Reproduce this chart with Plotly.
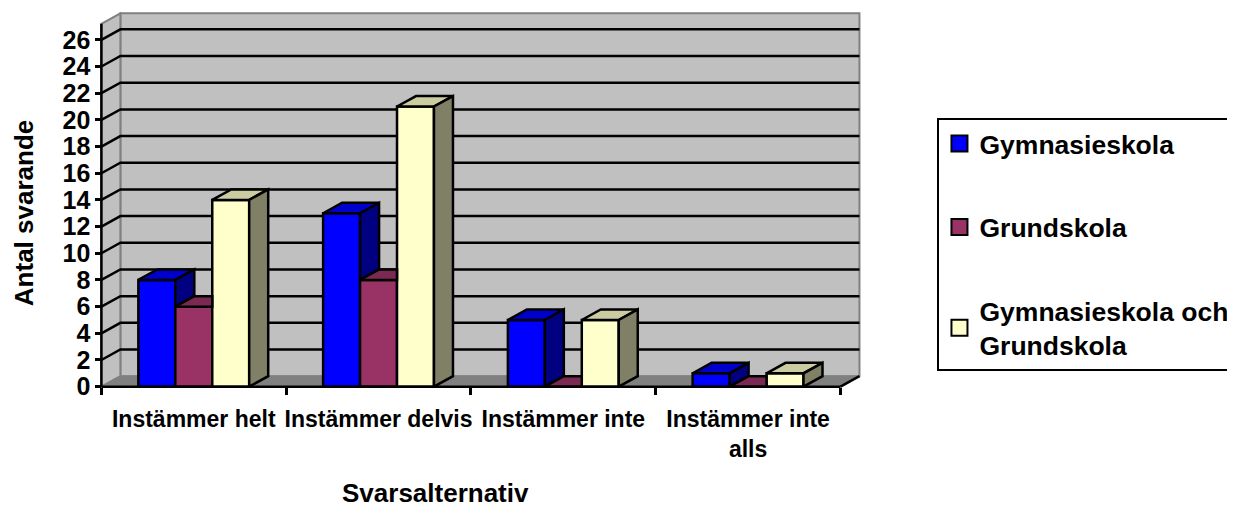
import plotly.graph_objects as go

# ---------------- data ----------------
categories = ["Instämmer helt", "Instämmer delvis", "Instämmer inte", "Instämmer inte<br>alls"]
series_names = ["Gymnasieskola", "Grundskola", "Gymnasieskola och<br>Grundskola"]
gymnasieskola = [8, 13, 5, 1]
grundskola = [6, 8, 0, 0]
gymnasieskola_och_grundskola = [14, 21, 5, 1]
y_tick_values = list(range(0, 27, 2))
y_title = "Antal svarande"
x_title = "Svarsalternativ"

series_values = [gymnasieskola, grundskola, gymnasieskola_och_grundskola]

# ---------------- styles ----------------
front_colors = ["#0000FF", "#993366", "#FFFFCC"]
top_colors = ["#0000CC", "#7A2952", "#CCCCA3"]
side_colors = ["#000080", "#5C1F3D", "#808066"]
FONT = "Arial, 'Liberation Sans', sans-serif"
OUT = 2.5

OFF = 8                      # page body margin of the rendered html
W, H = 1235 - OFF, 508 - OFF
X_PX = 184.75                # pixels per category
Y_PX = 13.35                 # pixels per value unit
DX = 19 / X_PX               # depth offset (x units)
DY = 10.5 / Y_PX             # depth offset (y units)
WALL_TOP = 27.2
AXIS_LEFT_PX = 101 - OFF
AXIS_BOTTOM_PX = 387 - OFF

n = len(categories)
x0, x1 = -0.5, n - 0.5
xr = [x0 - 0.04, x1 + DX + 0.03]
yr = [-0.25, WALL_TOP + DY + 0.1]

l = AXIS_LEFT_PX - (x0 - xr[0]) * X_PX
pw = (xr[1] - xr[0]) * X_PX
r = W - l - pw
b = H - AXIS_BOTTOM_PX - (0 - yr[0]) * Y_PX
ph = (yr[1] - yr[0]) * Y_PX
t = H - b - ph


def px_to_paper_x(px):
    return (px - OFF - l) / pw


def px_to_paper_y(py):
    return ((H - b) - (py - OFF)) / ph


fig = go.Figure()

bar_width = 0.2
for i, (name, vals) in enumerate(zip(series_names, series_values)):
    fig.add_trace(go.Bar(
        x=list(range(n)), y=vals, name=name, showlegend=False,
        marker=dict(color=front_colors[i], line=dict(color="black", width=OUT)),
        hoverinfo="skip",
    ))

# 3D faces (top and side) computed from the values
for k in range(n):
    for i in range(len(series_values)):
        v = series_values[i][k]
        a = k - 0.3 + bar_width * i
        bb = a + bar_width
        vn = series_values[i + 1][k] if i + 1 < len(series_values) else None
        if vn is not None and vn > v:
            top = [(a, v), (bb, v), (bb, v + DY), (a + DX, v + DY)]
        else:
            top = [(a, v), (bb, v), (bb + DX, v + DY), (a + DX, v + DY)]
        top.append(top[0])
        fig.add_trace(go.Scatter(
            x=[p[0] for p in top], y=[p[1] for p in top], mode="lines",
            fill="toself", fillcolor=top_colors[i],
            line=dict(color="black", width=OUT), showlegend=False, hoverinfo="skip",
        ))
        lower = max(vn, 0) if vn is not None else 0
        if v > lower:
            side = [(bb, lower), (bb, v), (bb + DX, v + DY), (bb + DX, lower + DY), (bb, lower)]
            fig.add_trace(go.Scatter(
                x=[p[0] for p in side], y=[p[1] for p in side], mode="lines",
                fill="toself", fillcolor=side_colors[i],
                line=dict(color="black", width=OUT), showlegend=False, hoverinfo="skip",
            ))

# legend entries (square swatches)
for i, name in enumerate(series_names):
    fig.add_trace(go.Scatter(
        x=[None], y=[None], mode="markers", name=name, legendgroup=f"g{i}",
        marker=dict(symbol="square", size=16, color=front_colors[i],
                    line=dict(color="black", width=2)),
    ))


def path(points, close=True):
    s = "M " + " L ".join(f"{x},{y}" for x, y in points)
    return s + (" Z" if close else "")


shapes = []
# back wall
shapes.append(dict(type="path", xref="x", yref="y", layer="below",
                   path=path([(x0 + DX, DY), (x1 + DX, DY), (x1 + DX, WALL_TOP + DY), (x0 + DX, WALL_TOP + DY)]),
                   fillcolor="#C0C0C0", line=dict(color="#808080", width=2)))
# left wall
shapes.append(dict(type="path", xref="x", yref="y", layer="below",
                   path=path([(x0, 0), (x0, WALL_TOP), (x0 + DX, WALL_TOP + DY), (x0 + DX, DY)]),
                   fillcolor="#C0C0C0", line=dict(color="#808080", width=2)))
# floor
shapes.append(dict(type="path", xref="x", yref="y", layer="below",
                   path=path([(x0, 0), (x1, 0), (x1 + DX, DY), (x0 + DX, DY)]),
                   fillcolor="#808080", line=dict(color="#808080", width=1.5)))
# gridlines
for v in y_tick_values:
    if v == 0:
        continue
    shapes.append(dict(type="path", xref="x", yref="y", layer="below",
                       path=path([(x0, v), (x0 + DX, v + DY), (x1 + DX, v + DY)], close=False),
                       line=dict(color="black", width=OUT)))
# floor right edge
shapes.append(dict(type="line", xref="x", yref="y", layer="above",
                   x0=x1, y0=0, x1=x1 + DX, y1=DY, line=dict(color="black", width=OUT)))
# front axes lines
shapes.append(dict(type="line", xref="x", yref="y", layer="above",
                   x0=x0, y0=0, x1=x1, y1=0, line=dict(color="black", width=OUT)))
shapes.append(dict(type="line", xref="x", yref="y", layer="above",
                   x0=x0, y0=0, x1=x0, y1=WALL_TOP, line=dict(color="black", width=OUT)))

annotations = [
    dict(text=y_title, xref="paper", yref="paper", x=px_to_paper_x(23), y=px_to_paper_y(213),
         xanchor="center", yanchor="middle", textangle=-90, showarrow=False,
         font=dict(family=FONT, size=26, color="black", weight="bold")),
    dict(text=x_title, xref="paper", yref="paper", x=px_to_paper_x(435), y=px_to_paper_y(493),
         xanchor="center", yanchor="middle", showarrow=False,
         font=dict(family=FONT, size=26, color="black", weight="bold")),
]

fig.update_layout(
    width=W, height=H,
    margin=dict(l=l, r=r, t=t, b=b, autoexpand=False),
    paper_bgcolor="white", plot_bgcolor="white",
    barmode="group", bargap=0.4, bargroupgap=0,
    shapes=shapes, annotations=annotations,
    font=dict(family=FONT, color="black"),
    showlegend=True,
    legend=dict(
        x=px_to_paper_x(937), y=px_to_paper_y(118), xanchor="left", yanchor="top",
        bgcolor="white", bordercolor="black", borderwidth=2,
        font=dict(family=FONT, size=26.5, color="black", weight="bold"),
        traceorder="grouped", tracegroupgap=46,
    ),
    xaxis=dict(
        range=xr, anchor="free", position=(H - b - AXIS_BOTTOM_PX) / ph,
        tickmode="array", tickvals=list(range(n)), ticktext=categories,
        ticks="", tickangle=0, showgrid=False, zeroline=False, showline=False,
        tickfont=dict(family=FONT, size=23, color="black", weight="bold"),
        ticklabelstandoff=16,
        minor=dict(tickmode="array", tickvals=[x0 + j for j in range(n + 1)], ticks="outside",
                   ticklen=7, tickwidth=OUT, tickcolor="black", showgrid=False),
    ),
    yaxis=dict(
        range=yr, anchor="free", position=(AXIS_LEFT_PX - l) / pw,
        tickmode="array", tickvals=y_tick_values,
        ticks="outside", ticklen=6, tickwidth=OUT, tickcolor="black",
        showgrid=False, zeroline=False, showline=False,
        tickfont=dict(family=FONT, size=25, color="black", weight="bold"),
        ticklabelstandoff=0,
    ),
)

fig.write_html("out.html")
